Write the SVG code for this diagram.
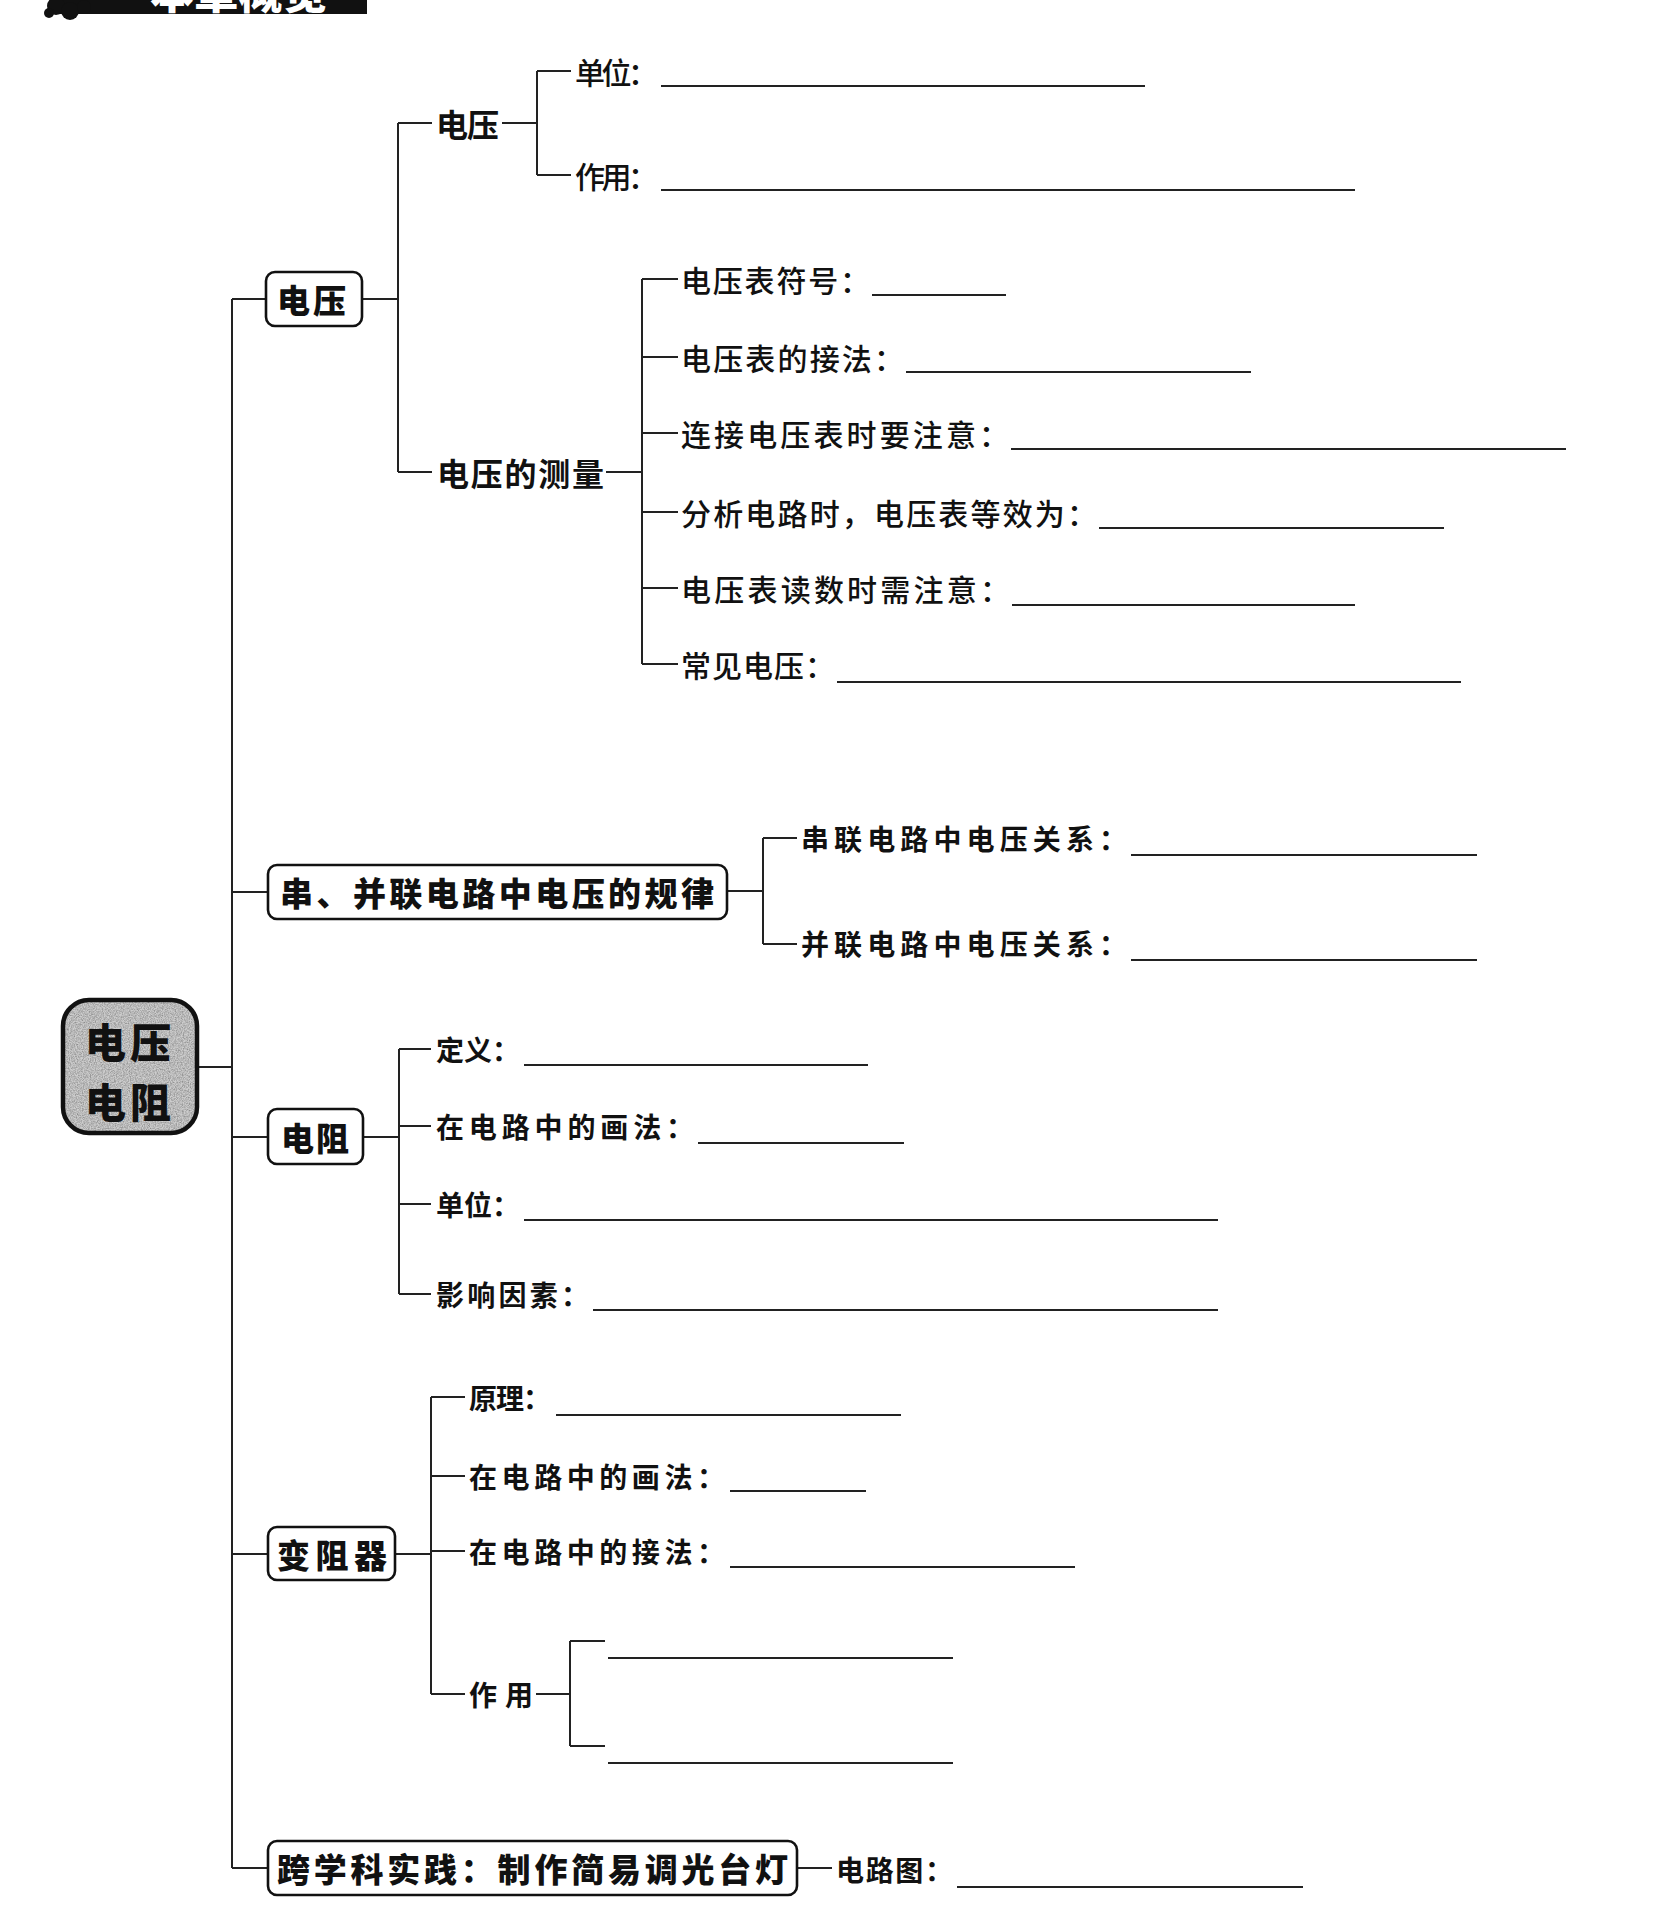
<svg xmlns="http://www.w3.org/2000/svg" width="1667" height="1910" viewBox="0 0 1667 1910">
<style>
text{font-family:"Noto Sans CJK SC","Noto Sans CJK TC",sans-serif;dominant-baseline:central;fill:#111}
.r{font-size:30px;font-weight:500}
.b{font-size:28px;font-weight:700}
.lb{font-size:32px;font-weight:700}
.bx{font-size:33px;font-weight:900}
.rt{font-size:41px;font-weight:900}
.box{fill:#fff;stroke:#111;stroke-width:2.6}
.conn path{fill:none;stroke:#222;stroke-width:2}
.ul{stroke:#222;stroke-width:2}
</style>
<defs>
<filter id="noise" x="0" y="0" width="100%" height="100%">
<feTurbulence type="fractalNoise" baseFrequency="0.85" numOctaves="2" seed="4" result="t"/>
<feColorMatrix in="t" type="matrix" values="0 0 0 0 0  0 0 0 0 0  0 0 0 0 0  0 0 0 0.6 -0.2"/>
<feComposite in2="SourceGraphic" operator="in"/>
</filter>
</defs>
<rect width="1667" height="1910" fill="#fff"/>
<g id="banner">
<rect x="50" y="0" width="317" height="14" fill="#111"/>
<circle cx="56" cy="6" r="9" fill="#111"/><circle cx="70" cy="11" r="9" fill="#111"/><circle cx="84" cy="7" r="7" fill="#111"/><circle cx="49" cy="13" r="5" fill="#111"/>
<text x="150" y="-10" font-size="44" font-weight="900" textLength="177" lengthAdjust="spacing" style="fill:#fff">本章概览</text>
</g>
<g class="conn">
<path d="M197 1067H232M232 299V1868M232 299H266M232 892H268M232 1137H268M232 1554H268M232 1868H268"/>
<path d="M362 299H398M398 123V472M398 123H432M398 472H432M502 123H537M537 71V175M537 71H571M537 175H571"/>
<path d="M606 472H642M642 279V664M642 279H678M642 357H678M642 433H678M642 512H678M642 588H678M642 664H678"/>
<path d="M727 891H763M763 838V944M763 838H797M763 944H797"/>
<path d="M363 1137H399M399 1049V1294M399 1049H431M399 1126H431M399 1204H431M399 1294H431"/>
<path d="M395 1554H431M431 1397V1694M431 1397H465M431 1476H465M431 1551H465M431 1694H465M536 1694H570M570 1641V1746M570 1641H605M570 1746H605"/>
<path d="M797 1868H832"/>
</g>
<g id="root">
<rect x="63" y="1000" width="134" height="133" rx="26" fill="#cdcdcd"/>
<rect x="63" y="1000" width="134" height="133" rx="26" fill="#000" filter="url(#noise)"/>
<rect x="63" y="1000" width="134" height="133" rx="26" fill="none" stroke="#111" stroke-width="4.5"/>
<text class="rt" x="85" y="1040" textLength="86" lengthAdjust="spacing">电压</text>
<text class="rt" x="85" y="1100" textLength="86" lengthAdjust="spacing">电阻</text>
</g>
<g id="n-voltage">
<rect class="box" x="266" y="272" width="96" height="54" rx="9"/>
<text class="bx" x="277" y="299" textLength="69" lengthAdjust="spacing">电压</text>
</g>
<g id="n-voltage-def">
<text class="lb" x="436" y="123" textLength="63" lengthAdjust="spacing">电压</text>
</g>
<g id="n-unit">
<text class="r" x="575" y="71" textLength="83" lengthAdjust="spacing">单位：</text>
<line class="ul" x1="661" y1="86" x2="1145" y2="86"/>
</g>
<g id="n-effect">
<text class="r" x="575" y="175" textLength="83" lengthAdjust="spacing">作用：</text>
<line class="ul" x1="661" y1="190" x2="1355" y2="190"/>
</g>
<g id="n-measure">
<text class="lb" x="437" y="472" textLength="167" lengthAdjust="spacing">电压的测量</text>
</g>
<g id="n-m1">
<text class="r" x="681" y="279" textLength="189" lengthAdjust="spacing">电压表符号：</text>
<line class="ul" x1="872" y1="295" x2="1006" y2="295"/>
</g>
<g id="n-m2">
<text class="r" x="681" y="357" textLength="223" lengthAdjust="spacing">电压表的接法：</text>
<line class="ul" x1="906" y1="372" x2="1251" y2="372"/>
</g>
<g id="n-m3">
<text class="r" x="681" y="433" textLength="328" lengthAdjust="spacing">连接电压表时要注意：</text>
<line class="ul" x1="1011" y1="449" x2="1566" y2="449"/>
</g>
<g id="n-m4">
<text class="r" x="681" y="512" textLength="416" lengthAdjust="spacing">分析电路时，电压表等效为：</text>
<line class="ul" x1="1099" y1="528" x2="1444" y2="528"/>
</g>
<g id="n-m5">
<text class="r" x="681" y="588" textLength="329" lengthAdjust="spacing">电压表读数时需注意：</text>
<line class="ul" x1="1012" y1="605" x2="1355" y2="605"/>
</g>
<g id="n-m6">
<text class="r" x="681" y="664" textLength="154" lengthAdjust="spacing">常见电压：</text>
<line class="ul" x1="837" y1="682" x2="1461" y2="682"/>
</g>
<g id="n-series">
<rect class="box" x="268" y="865" width="459" height="54" rx="9"/>
<text class="bx" x="280" y="892" textLength="434" lengthAdjust="spacing">串、并联电路中电压的规律</text>
</g>
<g id="n-s1">
<text class="b" x="801" y="838" textLength="326" lengthAdjust="spacing">串联电路中电压关系：</text>
<line class="ul" x1="1131" y1="855" x2="1477" y2="855"/>
</g>
<g id="n-s2">
<text class="b" x="801" y="943" textLength="326" lengthAdjust="spacing">并联电路中电压关系：</text>
<line class="ul" x1="1131" y1="960" x2="1477" y2="960"/>
</g>
<g id="n-resistance">
<rect class="box" x="268" y="1109" width="95" height="55" rx="9"/>
<text class="bx" x="281" y="1137" textLength="68" lengthAdjust="spacing">电阻</text>
</g>
<g id="n-r1">
<text class="b" x="436" y="1049" textLength="84" lengthAdjust="spacing">定义：</text>
<line class="ul" x1="524" y1="1065" x2="868" y2="1065"/>
</g>
<g id="n-r2">
<text class="b" x="436" y="1126" textLength="258" lengthAdjust="spacing">在电路中的画法：</text>
<line class="ul" x1="698" y1="1143" x2="904" y2="1143"/>
</g>
<g id="n-r3">
<text class="b" x="436" y="1204" textLength="84" lengthAdjust="spacing">单位：</text>
<line class="ul" x1="524" y1="1220" x2="1218" y2="1220"/>
</g>
<g id="n-r4">
<text class="b" x="436" y="1294" textLength="153" lengthAdjust="spacing">影响因素：</text>
<line class="ul" x1="593" y1="1310" x2="1218" y2="1310"/>
</g>
<g id="n-rheostat">
<rect class="box" x="268" y="1527" width="127" height="53" rx="9"/>
<text class="bx" x="277" y="1554" textLength="110" lengthAdjust="spacing">变阻器</text>
</g>
<g id="n-v1">
<text class="b" x="469" y="1397" textLength="82" lengthAdjust="spacing">原理：</text>
<line class="ul" x1="556" y1="1415" x2="901" y2="1415"/>
</g>
<g id="n-v2">
<text class="b" x="469" y="1476" textLength="256" lengthAdjust="spacing">在电路中的画法：</text>
<line class="ul" x1="730" y1="1491" x2="866" y2="1491"/>
</g>
<g id="n-v3">
<text class="b" x="469" y="1551" textLength="256" lengthAdjust="spacing">在电路中的接法：</text>
<line class="ul" x1="730" y1="1567" x2="1075" y2="1567"/>
</g>
<g id="n-v4">
<text class="b" x="469" y="1694" textLength="64" lengthAdjust="spacing">作用</text>
<line class="ul" x1="608" y1="1658" x2="953" y2="1658"/>
<line class="ul" x1="608" y1="1763" x2="953" y2="1763"/>
</g>
<g id="n-practice">
<rect class="box" x="268" y="1841" width="529" height="54" rx="9"/>
<text class="bx" x="277" y="1868" textLength="511" lengthAdjust="spacing">跨学科实践：制作简易调光台灯</text>
</g>
<g id="n-p1">
<text class="b" x="836" y="1869" textLength="117" lengthAdjust="spacing">电路图：</text>
<line class="ul" x1="957" y1="1887" x2="1303" y2="1887"/>
</g>
</svg>
